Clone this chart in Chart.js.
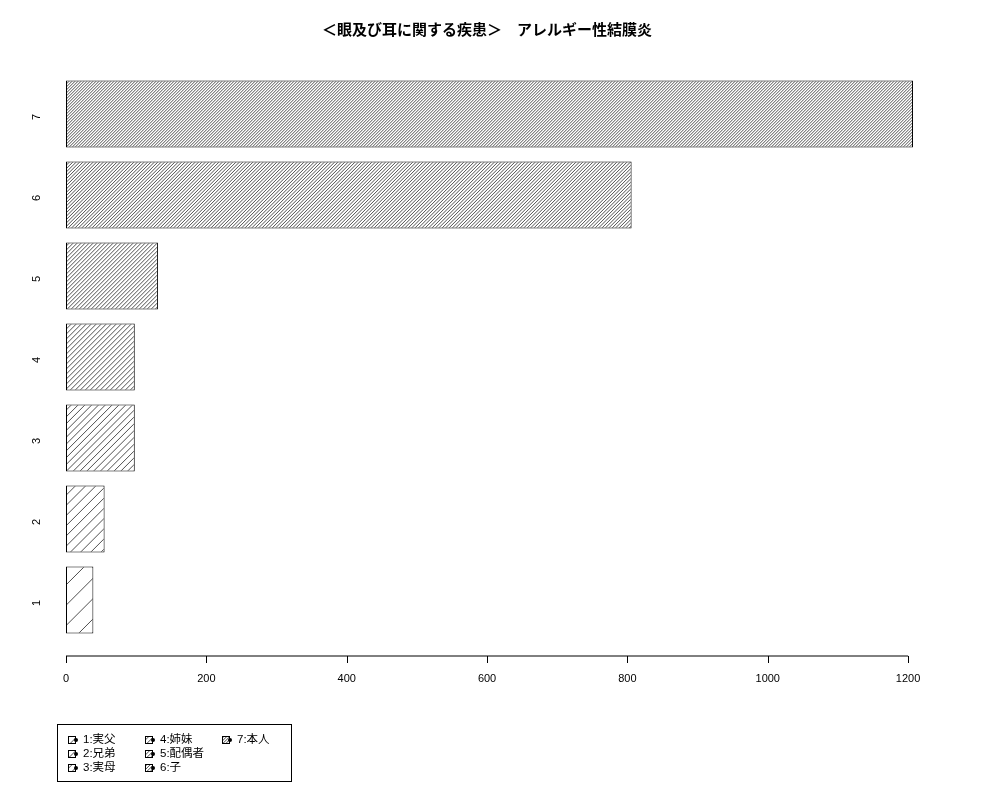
<!DOCTYPE html>
<html>
<head>
<meta charset="utf-8">
<script src="https://cdn.jsdelivr.net/npm/chart.js@4"></script>
<style>
  html, body { margin: 0; padding: 0; background: #fff; }
  canvas { display: block; }
</style>
</head>
<body>
<canvas id="grafico" width="1000" height="800"></canvas>
<script>
// Datos
const categorias = ['1', '2', '3', '4', '5', '6', '7'];
const etiquetas = ['1:実父', '2:兄弟', '3:実母', '4:姉妹', '5:配偶者', '6:子', '7:本人'];
const valores = [39, 55, 98, 98, 131, 806, 1207];
const densidades = [5, 10, 15, 20, 25, 30, 35]; // líneas por pulgada del rayado
const ticksX = [0, 200, 400, 600, 800, 1000, 1200];
const titulo = '＜眼及び耳に関する疾患＞　アレルギー性結膜炎';

const fuente = "'Liberation Sans', 'Noto Sans CJK JP', sans-serif";
const canvas = document.getElementById('grafico');
const ctx = canvas.getContext('2d');

// Patrón de líneas diagonales estilo R (density)
function rayado(densidad) {
    const paso = 72 / densidad * Math.SQRT2;
    let n = 1;
    while (Math.abs(paso * n - Math.round(paso * n)) > 0.15 && n < 6) n++;
    const t = Math.round(paso * n);
    const s = t / n;
    const c = document.createElement('canvas');
    c.width = t; c.height = t;
    const g = c.getContext('2d');
    g.fillStyle = '#fff';
    g.fillRect(0, 0, t, t);
    g.strokeStyle = '#222';
    g.lineWidth = 0.8;
    g.beginPath();
    for (let k = -1; k <= 2 * n + 1; k++) {
        const cc = k * s + 0.3;
        g.moveTo(cc + 1, -1);
        g.lineTo(cc - t - 1, t + 1);
    }
    g.stroke();
    return ctx.createPattern(c, 'repeat');
}
const patrones = densidades.map(rayado);

// Eje X dibujado a la altura de R (debajo del área de barras)
const ejePlugin = {
    id: 'ejeR',
    afterDraw(chart) {
        const x = chart.scales.x;
        const c = chart.ctx;
        const y = 656;
        c.save();
        c.strokeStyle = '#000';
        c.lineWidth = 1;
        c.beginPath();
        c.moveTo(x.getPixelForValue(ticksX[0]), y);
        c.lineTo(x.getPixelForValue(ticksX[ticksX.length - 1]), y);
        ticksX.forEach(v => {
            const px = Math.round(x.getPixelForValue(v)) + 0.5;
            c.moveTo(px, y);
            c.lineTo(px, y + 7);
        });
        c.stroke();
        c.restore();
    }
};

// Leyenda en columnas (como legend() de R)
const leyendaPlugin = {
    id: 'leyendaR',
    afterDraw(chart) {
        const c = chart.ctx;
        c.save();
        c.strokeStyle = '#000';
        c.lineWidth = 1;
        c.strokeRect(57.5, 724.5, 234, 57);
        c.font = '11.5px ' + fuente;
        c.textBaseline = 'middle';
        etiquetas.forEach((txt, i) => {
            const col = Math.floor(i / 3);
            const fila = i % 3;
            const sx = 68 + col * 77;
            const sy = 740 + fila * 14;
            c.fillStyle = patrones[i];
            c.fillRect(sx, sy - 4, 8, 8);
            c.strokeRect(sx + 0.5, sy - 3.5, 7, 7);
            c.fillStyle = '#000';
            c.beginPath();
            c.arc(sx + 8, sy, 2, 0, Math.PI * 2);
            c.fill();
            c.fillText(txt, sx + 15, sy);
        });
        c.restore();
    }
};

new Chart(canvas, {
    type: 'bar',
    data: {
        labels: categorias,
        datasets: [{
            label: titulo,
            data: valores,
            backgroundColor: patrones,
            borderColor: '#000',
            borderWidth: 1,
            borderSkipped: false,
            barPercentage: 67 / 81,
            categoryPercentage: 1
        }]
    },
    options: {
        indexAxis: 'y',
        responsive: false,
        animation: false,
        devicePixelRatio: 1,
        layout: { padding: { left: 28, right: 54, top: 0, bottom: 99.5 } },
        plugins: {
            legend: { display: false },
            tooltip: { enabled: false },
            title: {
                display: true,
                text: titulo,
                color: '#000',
                font: { family: "'Noto Sans CJK JP'", size: 15, weight: 'bold' },
                padding: { top: 20, bottom: 35.5 }
            }
        },
        scales: {
            x: {
                min: 0,
                max: 1254,
                grid: { display: false },
                border: { display: false },
                ticks: {
                    stepSize: 200,
                    includeBounds: false,
                    color: '#000',
                    font: { family: fuente, size: 11 },
                    padding: 24,
                    callback: v => String(v)
                },
                afterFit: s => { s.height = 60; }
            },
            y: {
                reverse: true,
                grid: { display: false },
                border: { display: false },
                ticks: {
                    minRotation: 90,
                    maxRotation: 90,
                    color: '#000',
                    font: { family: fuente, size: 11 },
                    padding: 21
                },
                afterFit: s => { s.width = 38; }
            }
        }
    },
    plugins: [ejePlugin, leyendaPlugin]
});
</script>
</body>
</html>
